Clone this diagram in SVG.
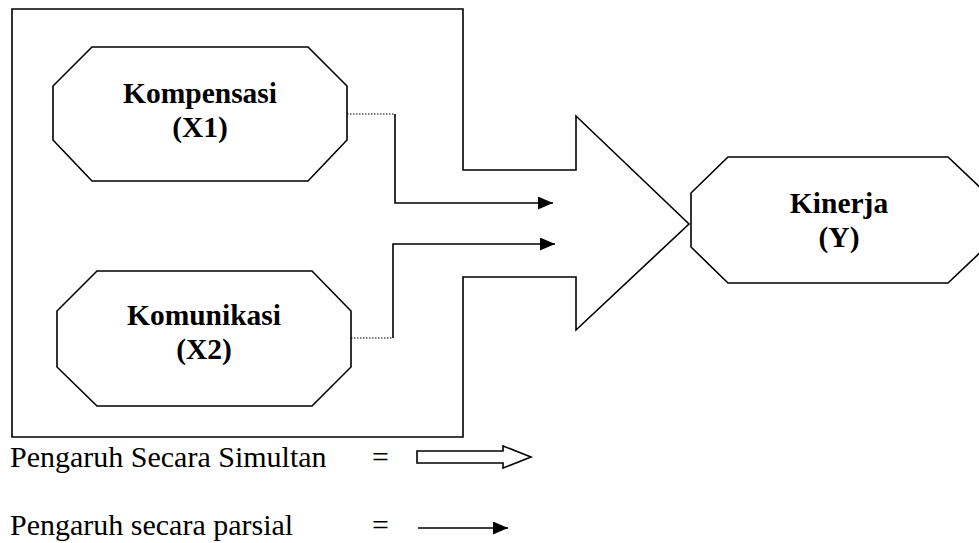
<svg xmlns="http://www.w3.org/2000/svg" width="979" height="543" viewBox="0 0 979 543">
<style>
.shape{fill:#fff;stroke:#000;stroke-width:1.6}
.lbl{font-family:"Liberation Serif","Times New Roman",serif;font-weight:bold;font-size:29.5px;text-anchor:middle;fill:#000}
.leg{font-family:"Liberation Serif","Times New Roman",serif;font-size:30px;fill:#000}
.dot{fill:none;stroke:#000;stroke-width:1.2;stroke-dasharray:1.5,1.5}
.ln{fill:none;stroke:#000;stroke-width:1.6}
</style>
<defs>
<marker id="ah" markerWidth="15" markerHeight="13" refX="15" refY="6.5" orient="auto" markerUnits="userSpaceOnUse">
<path d="M0,0 L15,6.5 L0,13 Z" fill="#000"/>
</marker>
</defs>
<rect width="979" height="543" fill="#fff"/>
<g id="simultan-frame">
<path class="shape" d="M12,9 L463,9 L463,170 L576,170 L576,116 L689,224 L576,330 L576,277 L463,277 L463,437 L12,437 Z"/>
</g>
<g id="node-kompensasi">
<polygon class="shape" points="92,47 308,47 347,86 347,140 308,181 92,181 53,140 53,86"/>
<text class="lbl" x="200" y="103">Kompensasi</text>
<text class="lbl" x="200" y="137">(X1)</text>
</g>
<g id="node-komunikasi">
<polygon class="shape" points="97,271 312,271 351,311 351,367 312,406 97,406 57,367 57,311"/>
<text class="lbl" x="204" y="325">Komunikasi</text>
<text class="lbl" x="204" y="359">(X2)</text>
</g>
<g id="node-kinerja">
<polygon class="shape" points="728,157 948,157 986,193 986,247 948,283 728,283 691,247 691,193"/>
<text class="lbl" x="839" y="213">Kinerja</text>
<text class="lbl" x="839" y="247">(Y)</text>
</g>
<g id="connectors">
<line class="dot" x1="347" y1="114" x2="395" y2="114"/>
<polyline class="ln" points="395,114 395,203 553,203" marker-end="url(#ah)"/>
<line class="dot" x1="351" y1="338" x2="393" y2="338"/>
<polyline class="ln" points="393,338 393,244 555,244" marker-end="url(#ah)"/>
</g>
<g id="legend">
<text class="leg" x="10" y="467">Pengaruh Secara Simultan</text>
<text class="leg" x="372" y="467">=</text>
<path class="shape" d="M417,451 L503,451 L503,446 L531,457 L503,468 L503,463 L417,463 Z"/>
<text class="leg" x="10" y="535">Pengaruh secara parsial</text>
<text class="leg" x="372" y="535">=</text>
<line class="ln" x1="418" y1="528" x2="508" y2="528" marker-end="url(#ah)"/>
</g>
</svg>
